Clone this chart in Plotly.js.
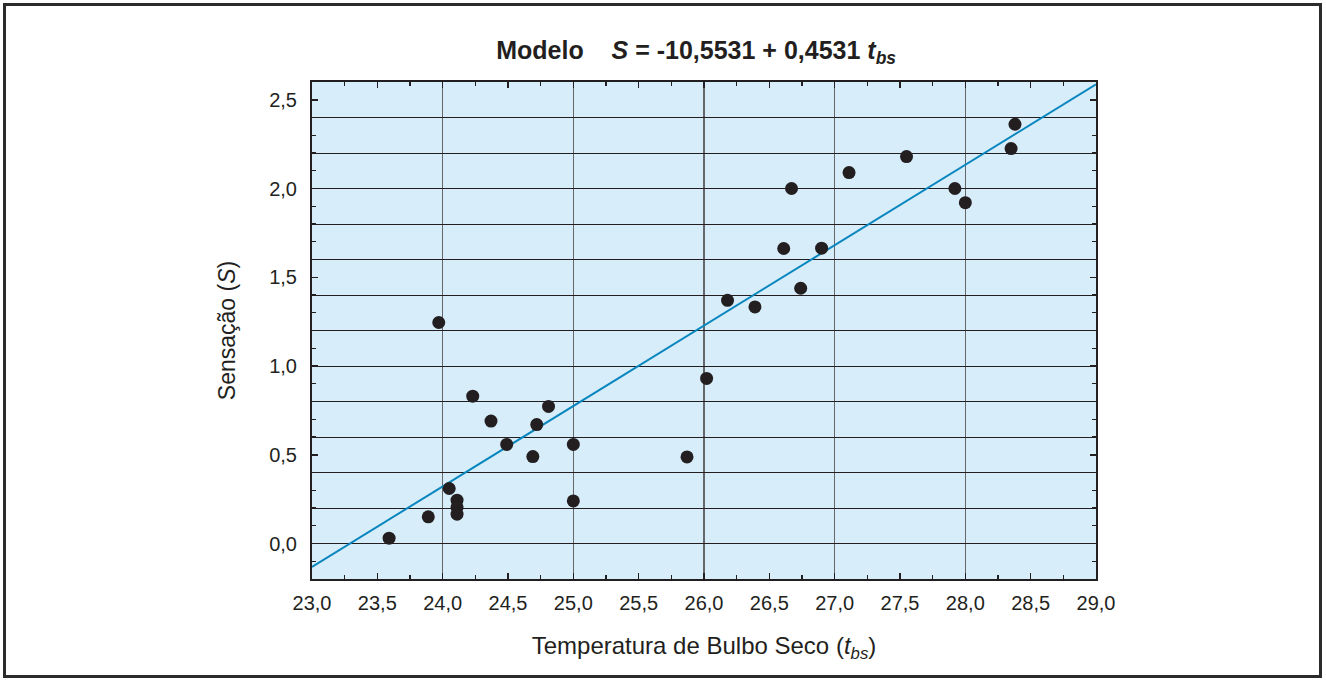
<!DOCTYPE html>
<html>
<head>
<meta charset="utf-8">
<script src="https://cdn.plot.ly/plotly-3.0.1.min.js"></script>
<style>
  html, body { margin: 0; padding: 0; background: #ffffff; }
  #chart { width: 1326px; height: 680px; position: absolute; left: 0; top: 0; }
  #frame { position: absolute; left: 3px; top: 3px; width: 1319px; height: 675px;
           box-sizing: border-box; border: 3px solid #2b2b2b; pointer-events: none; }
</style>
</head>
<body>
<div id="chart"></div>
<div id="frame"></div>
<script>
// Observed data: dry-bulb temperature (t_bs) vs sensation (S)
const tempBulboSeco = [
  23.59, 23.89, 23.97, 24.05, 24.11, 24.11, 24.11, 24.23, 24.37, 24.49,
  24.69, 24.72, 24.81, 25.00, 25.00, 25.87, 26.02, 26.18, 26.39, 26.61,
  26.67, 26.74, 26.90, 27.11, 27.55, 27.92, 28.00, 28.35, 28.38
];
const sensacao = [
  0.03, 0.15, 1.245, 0.31, 0.244, 0.203, 0.165, 0.83, 0.69, 0.558,
  0.49, 0.67, 0.772, 0.558, 0.24, 0.488, 0.93, 1.37, 1.333, 1.662,
  2.00, 1.438, 1.664, 2.09, 2.18, 2.00, 1.92, 2.225, 2.362
];
// Fitted model: S = intercept + slope * t_bs
const modelIntercept = -10.5531;
const modelSlope = 0.4531;
const xRange = [23, 29];
const yRange = [-0.2, 2.6];

const lineX = xRange.slice();
const lineY = lineX.map(t => modelIntercept + modelSlope * t);

const ink = '#231f20';
const fontFam = '"Liberation Sans", Arial, Helvetica, sans-serif';

const traces = [
  {
    x: lineX, y: lineY, type: 'scatter', mode: 'lines',
    xaxis: 'x', yaxis: 'y',
    line: { color: '#0a86bf', width: 2 },
    hoverinfo: 'skip', showlegend: false
  },
  {
    x: tempBulboSeco, y: sensacao, type: 'scatter', mode: 'markers',
    xaxis: 'x2', yaxis: 'y2',
    marker: { color: ink, size: 13, line: { width: 0 } },
    showlegend: false
  }
];

const layout = {
  width: 1326, height: 680,
  paper_bgcolor: '#ffffff',
  plot_bgcolor: '#d7eefa',
  separators: ',.',
  font: { family: fontFam, color: ink, size: 20 },
  margin: { l: 312, r: 229.5, t: 82, b: 101, pad: 0 },
  showlegend: false,
  title: {
    text: '<b>Modelo\u00a0\u00a0\u00a0\u00a0<i>S</i> = -10,5531 + 0,4531 <i>t</i><sub><i>bs</i></sub></b>',
    font: { family: fontFam, size: 25, color: ink },
    xref: 'container', x: 0.525, xanchor: 'center',
    yref: 'container', y: 1 - 50 / 680, yanchor: 'middle'
  },
  xaxis: {
    range: xRange, dtick: 0.5, tick0: 23, tickformat: '.1f',
    showgrid: false, zeroline: false,
    showline: true, linecolor: ink, linewidth: 2, mirror: 'allticks',
    ticks: 'inside', ticklen: 6, tickwidth: 1.5, tickcolor: ink,
    minor: { dtick: 0.25, tick0: 23, ticks: 'inside', ticklen: 4, tickwidth: 1.2, tickcolor: ink, showgrid: false },
    tickfont: { size: 20, color: ink },
    ticklabelstandoff: 5,
    title: { text: 'Temperatura de Bulbo Seco (<i>t</i><sub><i>bs</i></sub>)', font: { size: 24, color: ink }, standoff: 24 }
  },
  yaxis: {
    range: yRange, dtick: 0.5, tick0: 0, tickformat: '.1f',
    showgrid: false, zeroline: false,
    showline: true, linecolor: ink, linewidth: 2, mirror: 'allticks',
    ticks: 'inside', ticklen: 6, tickwidth: 1.5, tickcolor: ink,
    minor: { dtick: 0.1, tick0: 0, ticks: 'inside', ticklen: 4, tickwidth: 1.2, tickcolor: ink, showgrid: false },
    tickfont: { size: 20, color: ink },
    ticklabelstandoff: 9,
    title: { text: 'Sensação (<i>S</i>)', font: { size: 23, color: ink }, standoff: 27 }
  },
  xaxis2: {
    overlaying: 'x', anchor: 'y2', range: xRange, dtick: 1, tick0: 23,
    showgrid: true, gridcolor: '#63676a', gridwidth: 1.3,
    showticklabels: false, ticks: '', zeroline: false, showline: false
  },
  yaxis2: {
    overlaying: 'y', anchor: 'x2', range: yRange, dtick: 0.2, tick0: 0,
    showgrid: true, gridcolor: ink, gridwidth: 1,
    showticklabels: false, ticks: '', zeroline: false, showline: false
  }
};

Plotly.newPlot('chart', traces, layout, { displayModeBar: false, staticPlot: true });
</script>
</body>
</html>
